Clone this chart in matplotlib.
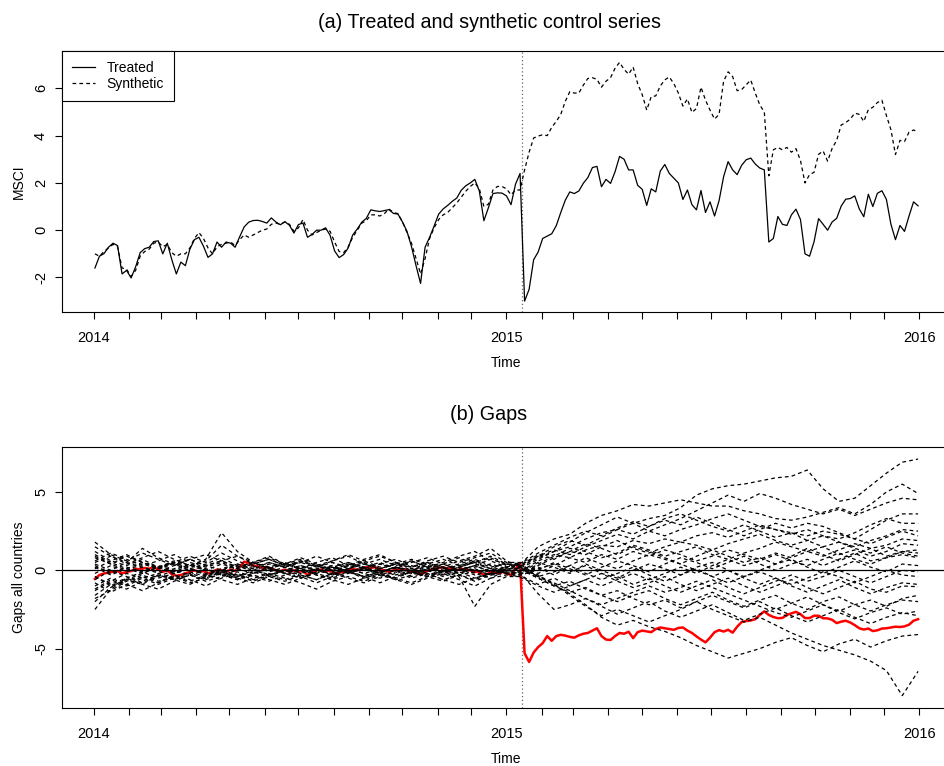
import pandas as pd
import matplotlib
matplotlib.use("Agg")
import matplotlib.pyplot as plt
import matplotlib.dates as mdates

plt.rcParams.update({
    "font.family": "Liberation Sans",
    "font.size": 10,
    "axes.unicode_minus": False,
    "axes.linewidth": 0.8,
})

# values, every 4 days from 2014-01-02
dates = pd.date_range("2014-01-02", periods=183, freq="4D")
treat_date = pd.Timestamp("2015-01-15")

treated = [
    -1.6, -1.10, -0.99, -0.72, -0.55, -0.65, -1.85, -1.70, -2.02, -1.55,
    -0.95, -0.78, -0.72, -0.48, -0.45, -1.0, -0.55, -1.25, -1.85, -1.35,
    -1.5, -0.80, -0.40, -0.30, -0.68, -1.15, -1.0, -0.50, -0.72, -0.50,
    -0.55, -0.72, -0.28, 0.14, 0.34, 0.41, 0.42, 0.37, 0.30, 0.52,
    0.35, 0.23, 0.36, 0.21, -0.12, 0.24, 0.30, -0.3, -0.18, 0.0,
    0.0, 0.10, -0.22, -0.88, -1.16, -1.03, -0.75, -0.20, 0.05, 0.34,
    0.50, 0.86, 0.82, 0.79, 0.83, 0.87, 0.71, 0.68, 0.35, -0.05,
    -0.70, -1.5, -2.25, -0.72, -0.30, 0.18, 0.68, 0.90, 1.05, 1.22,
    1.36, 1.69, 1.88, 2.00, 2.15, 1.65, 0.4, 0.95, 1.55, 1.58,
    1.57, 1.45, 1.08, 1.95, 2.4, -3.0, -2.5, -1.25, -0.92, -0.35,
    -0.25, -0.15, 0.19, 0.75, 1.27, 1.62, 1.55, 1.66, 1.99, 2.23,
    2.65, 2.70, 1.84, 2.15, 1.98, 2.47, 3.12, 3.00, 2.55, 2.55,
    1.9, 1.73, 1.05, 1.75, 1.62, 2.5, 2.78, 2.40, 2.2, 2.0,
    1.3, 1.7, 1.08, 0.86, 1.68, 0.75, 1.20, 0.6, 1.25, 2.26,
    2.9, 2.55, 2.35, 2.75, 2.98, 3.05, 2.8, 2.63, 2.55, -0.5,
    -0.35, 0.58, 0.25, 0.2, 0.65, 0.89, 0.45, -1.0, -1.1, -0.49,
    0.49, 0.25, 0.0, 0.35, 0.5, 1.02, 1.31, 1.34, 1.45, 0.9,
    0.57, 1.52, 1.0, 1.56, 1.67, 1.30, 0.25, -0.4, 0.2, -0.05,
    0.6, 1.2, 1.03,
]

synthetic = [
    -1.0, -1.1, -0.9, -0.75, -0.6, -0.7, -1.6, -1.65, -1.95, -1.7,
    -1.1, -0.9, -0.8, -0.55, -0.5, -0.7, -0.6, -0.95, -1.1, -1.0,
    -1.0, -0.75, -0.35, -0.1, -0.35, -0.75, -1.0, -0.7, -0.6, -0.55,
    -0.5, -0.65, -0.4, -0.2, -0.3, -0.2, -0.1, 0.0, 0.05, 0.25,
    0.3, 0.25, 0.35, 0.25, -0.05, 0.1, 0.45, 0.0, -0.2, -0.1,
    0.0, 0.05, -0.05, -0.5, -0.9, -0.95, -0.7, -0.3, 0.0, 0.3,
    0.4, 0.65, 0.65, 0.6, 0.7, 0.9, 0.75, 0.7, 0.35, -0.1,
    -0.55, -1.2, -1.85, -1.2, -0.35, 0.1, 0.45, 0.65, 0.75, 0.95,
    1.15, 1.4, 1.65, 1.85, 2.0, 1.75, 1.0, 1.1, 1.7, 1.85,
    1.85, 1.75, 1.5, 1.7, 1.7, 2.55, 3.3, 3.9, 3.98, 4.04,
    4.0, 4.35, 4.6, 4.9, 5.45, 5.86, 5.8, 5.8, 6.14, 6.42,
    6.45, 6.38, 6.05, 6.3, 6.45, 6.85, 7.1, 6.8, 6.6, 6.9,
    6.2, 5.74, 5.08, 5.65, 5.68, 6.1, 6.36, 6.48, 6.2, 5.8,
    5.25, 5.55, 4.98, 5.15, 6.05, 5.5, 5.08, 4.7, 4.9, 6.3,
    6.7, 6.5, 5.9, 5.95, 6.15, 6.35, 5.8, 5.3, 5.0, 2.3,
    3.4, 3.5, 3.4, 3.5, 3.3, 3.45, 2.95, 2.0, 2.35, 2.45,
    3.21, 3.35, 2.92, 3.46, 3.8, 4.45, 4.55, 4.7, 4.95, 4.9,
    4.6, 5.1, 5.2, 5.4, 5.5, 4.85, 4.25, 3.2, 3.8, 3.75,
    4.15, 4.24, 4.15,
]

gap_treated = [
    -0.55, -0.3, -0.2, -0.15, -0.1, -0.05, -0.2, -0.1, -0.05, 0.1,
    0.05, 0.15, 0.1, 0.2, 0.05, -0.1, 0.0, -0.25, -0.35, -0.3,
    -0.2, -0.1, 0.0, -0.1, -0.05, -0.2, -0.1, 0.05, 0.0, -0.1,
    0.05, -0.05, 0.2, 0.55, 0.45, 0.3, 0.25, 0.15, 0.2, 0.1,
    0.0, -0.05, 0.05, -0.1, 0.0, -0.1, -0.05, -0.3, -0.15, 0.0,
    0.05, -0.1, 0.0, -0.2, -0.15, -0.1, 0.05, 0.1, 0.0, 0.1,
    0.2, 0.15, 0.2, 0.05, 0.0, -0.1, 0.0, 0.05, 0.1, 0.0,
    -0.1, 0.0, -0.3, -0.1, 0.0, 0.1, 0.15, 0.2, 0.1, 0.15,
    0.0, 0.1, 0.05, 0.0, -0.1, -0.1, -0.3, -0.2, -0.05, -0.2,
    -0.1, -0.2, -0.3, 0.1, 0.45, -5.3, -5.85, -5.25, -4.9, -4.65,
    -4.2, -4.5, -4.2, -4.12, -4.17, -4.25, -4.3, -4.15, -4.05, -4.0,
    -3.85, -3.7, -4.2, -4.42, -4.45, -4.2, -4.0, -4.05, -3.92, -4.33,
    -3.95, -3.85, -3.9, -3.95, -3.75, -3.65, -3.7, -3.75, -3.8, -3.68,
    -3.65, -3.85, -4.0, -4.22, -4.42, -4.6, -4.3, -3.95, -3.82, -3.91,
    -3.8, -3.98, -3.6, -3.3, -3.24, -3.2, -3.12, -2.85, -2.62, -2.85,
    -2.98, -3.06, -3.04, -2.85, -2.75, -2.65, -2.8, -3.05, -3.05, -2.9,
    -2.9, -3.06, -3.07, -3.16, -3.37, -3.28, -3.22, -3.33, -3.5, -3.7,
    -3.78, -3.72, -3.88, -3.83, -3.72, -3.7, -3.65, -3.6, -3.62, -3.58,
    -3.47, -3.22, -3.12,
]

# placebo gaps of the donor countries, every 14 days from 2014-01-02
placebo_dates = pd.date_range("2014-01-02", periods=53, freq="14D")
placebo_gaps = [
    [1.2, 0.6, 0.3, 0.7, 0.2, 0.5, 0.1, 0.4, 0.8, 0.3, 0.0, 0.4, 0.2, 0.6, 0.3, -0.1, 0.3, 0.6, 0.2, 0.5, 0.1, 0.4, 0.7, 0.3, 0.5, 0.9, 0.4,
     0.3, 0.8, 1.2, 1.5, 2.0, 2.4, 2.6, 3.0, 3.3, 3.5, 4.0, 4.8, 5.2, 5.4, 5.5, 5.7, 5.9, 6.0, 6.4, 5.2, 4.4, 4.6, 5.4, 6.2, 6.9, 7.1],
    [-2.5, -1.2, -0.6, -0.9, -0.3, -0.6, -0.2, -0.5, -0.1, -0.4, 0.0, -0.3, -0.6, -0.2, 0.1, -0.3, 0.0, -0.4, -0.1, 0.2, -0.2, 0.1, -0.3, 0.0, 0.3, -0.1, 0.2,
     0.5, 1.5, 2.0, 2.3, 3.0, 3.5, 3.8, 4.2, 4.1, 4.3, 4.5, 4.3, 4.1, 4.1, 3.8, 3.6, 3.3, 3.2, 3.4, 3.7, 4.0, 3.6, 4.2, 5.0, 5.5, 4.9],
    [0.8, 0.4, 0.9, 0.5, 0.2, 0.6, 0.3, 0.7, 2.4, 1.2, 0.5, 0.2, 0.5, 0.1, 0.4, 0.0, 0.3, 0.7, 1.0, 0.5, 0.2, 0.5, 0.2, 0.6, 0.9, 1.4, 0.6,
     0.2, 0.7, 1.2, 1.8, 2.4, 2.9, 3.4, 3.0, 2.5, 2.2, 2.6, 2.9, 3.3, 3.6, 3.2, 2.8, 2.6, 2.4, 2.2, 2.5, 2.3, 2.0, 2.6, 3.2, 3.6, 3.6],
    [-1.6, -0.9, -1.2, -0.7, -0.3, -0.6, -0.9, -0.4, -0.1, -0.5, -0.2, 0.2, -0.2, -0.5, -0.1, 0.2, -0.2, 0.1, -0.3, 0.0, -0.4, -0.1, 0.2, -0.2, 0.1, -0.3, 0.0,
     0.0, 0.6, 1.0, 0.8, 1.3, 1.6, 1.5, 1.9, 1.7, 2.0, 1.8, 2.2, 2.4, 2.1, 2.5, 2.9, 2.6, 2.3, 2.6, 2.2, 2.0, 2.4, 2.9, 3.3, 3.0, 3.0],
    [1.5, 0.9, 0.5, 1.4, 0.8, 0.4, 0.7, 0.3, 0.6, 0.2, 0.5, 0.9, 0.4, 0.1, 0.5, 0.8, 0.3, 0.1, 0.4, 0.7, 0.3, 0.0, 0.4, 0.8, 0.4, 0.1, 0.5,
     0.4, 1.0, 0.7, 1.2, 1.0, 1.5, 1.9, 1.4, 1.1, 1.5, 1.8, 1.6, 1.3, 1.7, 2.0, 2.3, 1.9, 1.6, 1.9, 2.2, 1.8, 1.5, 1.9, 2.2, 2.6, 2.5],
    [-0.8, -1.4, -0.9, -0.4, -0.8, -0.3, -0.6, -1.0, -0.5, -0.2, -0.6, -0.3, 0.0, -0.4, -0.8, -0.4, -0.1, -0.5, -0.2, -0.6, -0.3, 0.0, -0.4, -0.1, -0.5, -0.2, -0.1,
     -0.2, 0.4, 0.9, 1.4, 1.2, 0.8, 1.1, 1.6, 1.3, 0.9, 1.2, 1.5, 1.0, 0.7, 1.1, 1.4, 1.8, 1.5, 1.2, 0.9, 1.3, 1.7, 1.4, 1.6, 2.0, 1.9],
    [0.3, -0.2, 0.2, -0.1, 0.3, 0.0, 0.4, 0.1, -0.2, 0.2, 0.5, 0.1, -0.2, 0.2, 0.0, 0.3, -0.1, 0.2, 0.5, 0.1, -0.2, 0.1, 0.4, 0.0, 0.3, -0.1, 0.2,
     0.3, -0.2, 0.3, 0.8, 0.5, 1.0, 0.7, 1.2, 0.9, 1.3, 1.0, 0.6, 0.9, 1.3, 1.0, 0.7, 1.1, 0.8, 1.2, 1.5, 1.0, 1.3, 0.9, 1.2, 1.7, 1.6],
    [-2.0, -1.1, -0.5, -0.9, -1.2, -0.7, -0.3, -0.6, -0.2, -0.5, -0.8, -0.4, -0.7, -0.3, -0.6, -0.2, -0.5, -0.8, -0.4, -0.1, -0.5, -0.2, -0.6, -0.3, -0.7, -0.3, -0.2,
     -0.1, 0.2, -0.3, 0.3, 0.8, 0.4, 0.1, 0.6, 1.0, 0.7, 0.4, 0.9, 1.3, 0.9, 0.5, 0.8, 0.4, 0.9, 1.4, 1.0, 0.6, 1.0, 1.4, 0.9, 1.2, 1.3],
    [0.6, 1.1, 0.7, 0.3, 0.6, 1.0, 0.5, 0.2, 0.5, 0.1, 0.4, 0.7, 0.3, 0.5, 0.2, 0.6, 0.9, 0.4, 0.1, 0.4, 0.2, 0.5, 0.1, 0.3, 0.6, 0.2, 0.4,
     0.2, 0.0, 0.5, 0.1, -0.3, 0.2, 0.6, 0.3, -0.1, 0.4, 0.8, 0.5, 0.1, 0.5, 0.9, 0.4, 0.0, 0.4, 0.7, 0.3, 0.7, 1.1, 0.6, 0.8, 1.2, 1.1],
    [-0.4, -0.9, -0.5, -0.1, -0.5, -0.2, 0.1, -0.3, 0.0, -0.4, -0.1, 0.2, -0.2, 0.1, -0.3, -0.6, -0.2, 0.1, -0.2, 0.2, -0.1, -0.4, 0.0, -0.3, -0.1, 0.1, -0.2,
     -0.3, 0.1, 0.4, -0.1, 0.3, -0.2, -0.5, 0.0, 0.4, 0.1, -0.3, 0.2, 0.5, 0.0, -0.4, 0.0, 0.4, 0.7, 0.2, -0.2, 0.2, 0.6, 0.2, -0.1, 0.4, 0.3],
    [1.0, 0.5, 0.1, 0.5, 0.2, -0.1, 0.3, 0.0, 0.4, 0.1, -0.2, 0.1, 0.4, 0.1, -0.2, 0.2, 0.5, 0.2, -0.1, 0.2, 0.0, 0.3, 0.0, -0.2, 0.2, 0.4, 0.1,
     0.1, -0.4, -0.1, 0.3, -0.2, -0.6, -0.2, 0.2, -0.3, -0.7, -0.3, 0.1, -0.4, -0.8, -0.4, -0.1, -0.5, -0.9, -0.5, -0.1, -0.4, -0.8, -0.4, 0.0, -0.3, -0.4],
    [-1.2, -0.6, -1.0, -0.5, -0.2, -0.6, -0.3, -0.7, -0.4, -0.1, -0.4, -0.7, -0.3, 0.0, -0.3, -0.6, -0.9, -0.5, -0.2, -0.5, -0.8, -0.4, -0.1, -0.4, -2.3, -0.9, -0.4,
     -0.4, -0.9, -0.5, -1.0, -0.6, -0.2, -0.7, -1.1, -0.8, -0.4, -0.9, -1.3, -0.9, -0.5, -1.0, -1.4, -1.0, -0.6, -1.1, -1.5, -1.1, -0.7, -1.2, -1.4, -1.0, -1.05],
    [0.2, -0.3, 0.1, -0.2, 0.2, 0.5, 0.1, -0.2, 0.1, 0.4, 0.1, -0.3, 0.0, 0.3, 0.0, -0.2, 0.1, 0.4, 0.0, -0.3, 0.0, 0.3, -0.1, 0.2, 0.5, 0.1, 0.0,
     0.0, -0.5, -1.0, -1.4, -1.1, -1.6, -2.0, -1.6, -1.3, -1.8, -2.2, -1.8, -1.4, -1.9, -2.3, -1.9, -1.6, -2.1, -2.5, -2.0, -1.7, -2.2, -2.6, -2.2, -1.9, -2.0],
    [-0.6, 0.0, -0.4, -0.8, -0.4, 0.0, -0.3, 0.1, -0.3, -0.6, -0.2, 0.1, -0.2, -0.5, -0.1, 0.2, -0.1, -0.4, -0.1, 0.2, -0.1, -0.4, -0.1, 0.2, -0.2, -0.5, -0.3,
     -0.3, -1.5, -2.5, -2.2, -1.8, -2.3, -2.8, -2.4, -2.0, -2.6, -3.0, -2.6, -2.2, -2.7, -3.2, -2.8, -2.4, -2.9, -3.3, -2.9, -2.5, -3.0, -3.4, -3.0, -2.7, -2.9],
    [0.5, 0.9, 0.4, 0.8, 1.2, 0.7, 0.3, 0.6, 1.6, 0.9, 0.4, 0.7, 0.3, 0.6, 0.2, 0.5, 0.1, 0.4, 0.7, 0.3, 0.6, 0.2, 0.5, 0.9, 1.2, 0.6, 0.2,
     0.2, -0.4, -0.9, -1.5, -2.2, -3.0, -3.5, -3.2, -3.6, -3.9, -4.3, -4.8, -5.2, -5.6, -5.3, -5.0, -4.6, -4.3, -4.8, -5.2, -4.7, -4.4, -4.9, -4.5, -4.2, -4.1],
    [-1.0, -0.5, -0.9, -1.3, -0.8, -0.4, -0.7, -0.3, -0.6, -0.9, -0.5, -0.2, -0.5, -0.8, -1.2, -0.7, -0.4, -0.7, -0.3, -0.6, -0.9, -0.5, -0.2, -0.6, -1.0, -0.5, 0.0,
     0.0, -0.5, -1.0, -0.7, -1.2, -1.6, -1.3, -1.8, -2.2, -1.9, -2.4, -2.0, -2.5, -2.9, -3.3, -3.0, -3.5, -4.0, -4.4, -4.8, -5.1, -5.4, -5.8, -6.4, -8.0, -6.45],
    [1.8, 1.0, 0.6, 1.1, 0.7, 0.3, 0.7, 1.0, 0.6, 0.9, 0.5, 0.8, 0.4, 0.7, 0.3, 0.6, 1.0, 0.6, 0.9, 0.5, 0.2, 0.6, 0.9, 0.5, 0.8, 1.1, 0.5,
     0.5, 1.1, 1.6, 2.1, 2.5, 2.2, 2.7, 3.1, 2.8, 3.3, 3.6, 3.2, 2.8, 2.5, 2.9, 2.5, 2.1, 2.4, 1.9, 1.5, 1.8, 1.4, 1.1, 1.5, 1.1, 0.9],
    [-0.2, 0.3, -0.1, 0.2, -0.2, 0.1, 0.4, 0.0, -0.3, 0.0, 0.3, -0.1, 0.2, -0.2, 0.1, 0.3, -0.1, 0.2, -0.2, -0.5, -0.1, 0.2, -0.2, 0.1, -0.3, 0.0, -0.2,
     -0.2, 0.3, 0.8, 1.2, 1.7, 1.4, 1.0, 1.5, 1.2, 0.8, 0.4, 0.0, -0.4, 0.0, -0.5, -0.9, -0.5, -1.0, -1.4, -1.0, -0.6, -1.1, -1.5, -1.1, -0.8, -0.9],
    [-1.8, -1.3, -0.7, -0.3, -0.7, -0.4, -0.8, -0.5, -0.2, -0.6, -0.3, -0.6, -0.9, -0.5, -0.2, -0.5, -0.1, -0.4, -0.8, -0.4, -0.1, -0.4, -0.7, -0.3, -0.6, -0.2, 0.1,
     0.1, -0.4, -0.8, -1.3, -1.8, -2.2, -1.8, -1.4, -1.0, -1.4, -1.1, -0.7, -1.1, -1.5, -1.9, -2.3, -2.7, -3.0, -2.6, -2.2, -2.6, -2.2, -1.9, -2.3, -1.8, -1.6],
    [0.9, 0.4, 0.0, 0.4, 0.1, 0.5, 0.9, 0.5, 1.1, 0.6, 0.2, 0.5, 0.2, 0.5, 0.9, 0.5, 0.2, 0.5, 0.1, 0.4, 0.7, 0.4, 0.1, 0.4, 0.7, 0.3, -0.2,
     -0.5, -1.0, -1.4, -1.0, -0.6, -1.0, -0.6, -0.2, -0.6, -0.2, 0.2, -0.2, 0.3, 0.7, 0.3, 0.6, 1.0, 0.6, 0.3, 0.7, 1.1, 0.7, 0.4, 0.8, 1.0, 0.8],
    [-0.4, -1.0, -0.6, -0.2, 0.2, -0.2, 0.1, -0.3, 0.0, 0.3, -0.1, -0.4, 0.0, 0.3, 0.0, -0.3, 0.1, -0.2, 0.1, 0.4, 0.0, -0.3, 0.0, 0.3, 0.0, -0.3, 0.1,
     0.2, -0.3, -0.9, -1.6, -2.3, -2.9, -2.5, -2.9, -3.3, -2.9, -2.5, -2.0, -1.6, -2.0, -2.4, -2.0, -2.5, -2.1, -1.7, -2.2, -2.7, -3.1, -2.7, -2.4, -2.8, -2.6],
    [0.1, 0.6, 1.0, 0.5, 0.1, 0.4, 0.0, 0.3, 0.6, 0.2, 0.5, 0.1, 0.4, 0.8, 0.4, 0.1, 0.5, 0.1, 0.4, 0.1, 0.5, 0.8, 0.4, 0.0, 0.3, 0.7, 0.4,
     0.3, 0.9, 1.5, 1.9, 1.6, 2.1, 2.6, 2.3, 2.8, 3.2, 2.9, 3.4, 3.0, 2.6, 2.2, 2.6, 3.0, 2.7, 3.0, 2.8, 2.4, 2.0, 1.7, 2.1, 2.5, 2.2],
    [-1.3, -0.7, -0.2, -0.5, -0.9, -0.5, -0.1, -0.4, 0.0, -0.3, -0.7, -0.3, 0.0, -0.3, -0.6, -0.2, 0.1, -0.2, -0.5, -0.2, 0.1, -0.2, -0.6, -0.9, -0.5, -0.2, -0.1,
     -0.1, 0.5, 0.2, -0.2, 0.4, 0.0, -0.4, -0.9, -0.5, -1.0, -1.4, -1.0, -0.6, -1.1, -1.5, -1.1, -0.7, -0.3, -0.7, -0.4, 0.0, -0.4, -0.8, -0.4, 0.0, -0.1],
    [0.4, 0.0, 0.5, 0.2, -0.1, 0.3, 0.7, 0.3, 0.0, 0.4, 0.1, 0.5, 0.2, -0.1, 0.3, 0.0, 0.4, 0.1, -0.2, 0.2, 0.6, 0.2, -0.1, 0.2, 0.5, 0.8, 0.3,
     0.4, 0.9, 1.3, 1.0, 1.5, 1.9, 2.3, 2.0, 2.5, 2.9, 3.3, 3.8, 4.3, 4.8, 4.4, 4.9, 4.6, 4.2, 3.9, 3.6, 3.9, 3.5, 3.9, 4.3, 4.6, 4.5],
]

W, H = 945, 766
fig = plt.figure(figsize=(W / 100, H / 100), dpi=100)
# plot regions in pixels (left, top, right, bottom); right edge runs past the picture
ax1 = fig.add_axes([62 / W, 1 - 312 / H, (951 - 62) / W, (312 - 51) / H])
ax2 = fig.add_axes([62 / W, 1 - 708 / H, (951 - 62) / W, (708 - 447) / H])

pad = (dates[-1] - dates[0]) * 0.04
for ax in (ax1, ax2):
    ax.set_xlim(dates[0] - pad, dates[-1] + pad)
    ax.xaxis.set_major_locator(mdates.YearLocator())
    ax.xaxis.set_minor_locator(mdates.MonthLocator())
    ax.xaxis.set_major_formatter(mdates.DateFormatter("%Y"))
    ax.tick_params(which="both", direction="out", length=5, width=0.8, color="black")
    ax.tick_params(axis="x", which="major", pad=9, labelsize=10.5)
    ax.tick_params(axis="y", labelrotation=90, pad=5, labelsize=10.5)
    for lab in ax.get_yticklabels():
        lab.set_va("center")
    ax.axvline(treat_date, color="0.4", linestyle=(0, (1, 2)), linewidth=0.9)
    ax.set_xlabel("Time", labelpad=7.5)

# (a) treated and synthetic series
ax1.plot(dates, treated, color="black", linewidth=0.9, label="Treated")
ax1.plot(dates, synthetic, color="black", linewidth=0.9, linestyle=(0, (3, 2.5)), label="Synthetic")
ax1.set_ylim(-3.46, 7.58)
ax1.set_yticks([-2, 0, 2, 4, 6])
ax1.set_ylabel("MSCI")
ax1.yaxis.set_label_coords(-0.041, 0.5)
leg = ax1.legend(loc="upper left", borderaxespad=0, fancybox=False, framealpha=1,
                 edgecolor="black", handlelength=1.7, handletextpad=0.8,
                 borderpad=0.7, labelspacing=0.15, fontsize=10)
leg.get_frame().set_linewidth(0.8)

# (b) gaps
ax2.plot(dates, gap_treated, color="red", linewidth=1.8, zorder=2)
for series in placebo_gaps:
    ax2.plot(placebo_dates, series, color="black", linewidth=0.9, linestyle=(0, (3, 2.5)), zorder=3)
ax2.axhline(0, color="black", linewidth=0.9, zorder=4)
ax2.set_ylim(-8.79, 7.87)
ax2.set_yticks([-5, 0, 5])
ax2.set_ylabel("Gaps all countries")
ax2.yaxis.set_label_coords(-0.041, 0.5)

fig.text(489 / W, 1 - 22 / H, "(a) Treated and synthetic control series", ha="center", va="center", fontsize=14.2)
fig.text(489 / W, 1 - 415 / H, "(b) Gaps", ha="center", va="center", fontsize=14.2)

fig.savefig("out.png", dpi=100)
